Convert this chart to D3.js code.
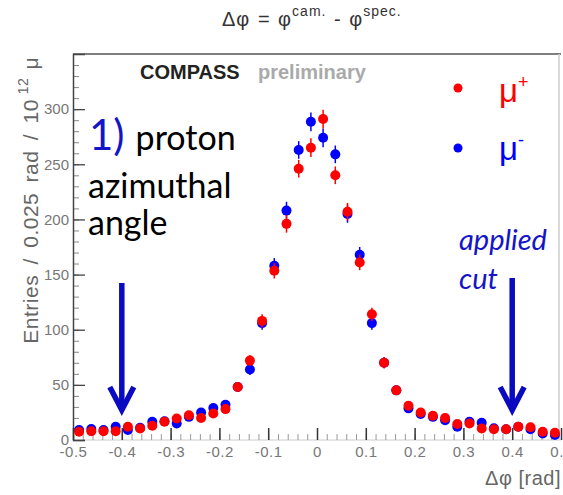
<!DOCTYPE html>
<html>
<head>
<meta charset="utf-8">
<script src="https://cdn.jsdelivr.net/npm/d3@7"></script>
<style>
  body { margin: 0; background: #fff; }
  svg { display: block; font-family: "Liberation Sans", Arial, sans-serif; }
</style>
</head>
<body>
<div id="cont"></div>
<script>
// Delta phi bins (centres, width 0.025 rad)
var binCentres = [-0.4875, -0.4625, -0.4375, -0.4125, -0.3875, -0.3625, -0.3375, -0.3125,
  -0.2875, -0.2625, -0.2375, -0.2125, -0.1875, -0.1625, -0.1375, -0.1125,
  -0.0875, -0.0625, -0.0375, -0.0125, 0.0125, 0.0375, 0.0625, 0.0875,
  0.1125, 0.1375, 0.1625, 0.1875, 0.2125, 0.2375, 0.2625, 0.2875,
  0.3125, 0.3375, 0.3625, 0.3875, 0.4125, 0.4375, 0.4625, 0.4875];

// mu+ (red)
var muPlus = [7.5, 8, 8, 8, 12, 10.5, 13, 16.5, 19.5, 22.5, 20, 24, 28, 48, 72, 108,
  153.5, 196, 246, 265, 291, 240, 207, 161, 114, 70, 45, 31, 25, 22, 20, 14.5,
  15, 10.5, 9.7, 9.7, 12, 11.5, 7.5, 6.6];

// mu- (blue)
var muMinus = [9, 10, 9, 12, 9, 11, 16.5, 17, 15, 21, 25, 29, 32, 48, 64, 106,
  158, 208, 263, 288.5, 274, 259, 205, 168, 106, 70, 45, 28.7, 23.6, 21, 18, 12,
  16.6, 15.7, 10.6, 9.7, 12, 9.7, 6, 4.5];

// half error bars (read roughly)
var errHalf = [2, 2, 2, 2, 2, 2, 2, 2, 2, 2.5, 2.5, 2.5, 3, 4, 5, 6,
  7, 8, 8, 8.5, 8.5, 8, 8, 7, 6, 5, 4, 3, 2.5, 2.5, 2.5, 2,
  2, 2, 2, 2, 2, 2, 2, 2];

var xTicks = [-0.5, -0.4, -0.3, -0.2, -0.1, 0, 0.1, 0.2, 0.3, 0.4, 0.5];
var xTickLabels = ["-0.5", "-0.4", "-0.3", "-0.2", "-0.1", "0", "0.1", "0.2", "0.3", "0.4", "0.5"];
var yTicks = [0, 50, 100, 150, 200, 250, 300];
var cutValues = [-0.4, 0.4];

var red = "#ff0000";
var blue = "#0000ff";
var annBlue = "#1414c8";

var svg = d3.select("#cont").append("svg")
    .attr("width", 563)
    .attr("height", 495);

var x = d3.scaleLinear().domain([-0.5, 0.5]).range([73, 561]);
var y = d3.scaleLinear().domain([0, 350]).range([440, 54]);

// frame
svg.append("line").attr("x1", 73).attr("x2", 561).attr("y1", 54).attr("y2", 54)
    .attr("stroke", "#555").attr("stroke-width", 1.5);
svg.append("line").attr("x1", 559).attr("x2", 559).attr("y1", 54).attr("y2", 440)
    .attr("stroke", "#ccc").attr("stroke-width", 1.5);
svg.append("line").attr("x1", 73).attr("x2", 561).attr("y1", 440).attr("y2", 440)
    .attr("stroke", "#ccc").attr("stroke-width", 1);

// minor ticks
var yMinor = d3.range(0, 351, 10);
svg.append("g").attr("transform", "translate(73,0)")
    .call(d3.axisLeft(y).tickValues(yMinor).tickSize(-6).tickFormat(""))
    .call(function(g) { g.select(".domain").remove(); g.selectAll("line").attr("stroke", "#888"); });
var xMinor = d3.range(-25, 26).map(function(i) { return i * 0.02; });
svg.append("g").attr("transform", "translate(0,440)")
    .call(d3.axisBottom(x).tickValues(xMinor).tickSize(-6).tickFormat(""))
    .call(function(g) { g.select(".domain").remove(); g.selectAll("line").attr("stroke", "#999"); });

// major axes
svg.append("g").attr("transform", "translate(73,0)")
    .call(d3.axisLeft(y).tickValues(yTicks).tickSize(-12).tickPadding(4))
    .call(function(g) {
      g.select(".domain").attr("stroke", "#444").attr("stroke-width", 1.5);
      g.selectAll("line").attr("stroke", "#444").attr("stroke-width", 1.3);
      g.selectAll("text").attr("fill", "#777").attr("font-size", 15)
        .attr("font-family", "Liberation Sans, Arial, sans-serif");
    });
svg.append("g").attr("transform", "translate(0,440)")
    .call(d3.axisBottom(x).tickValues(xTicks).tickSize(-12).tickPadding(6)
      .tickFormat(function(d, i) { return xTickLabels[i]; }))
    .call(function(g) {
      g.select(".domain").remove();
      g.selectAll("line").attr("stroke", "#333").attr("stroke-width", 1.5);
      g.selectAll("text").attr("fill", "#777").attr("font-size", 15)
        .attr("letter-spacing", 0.5)
        .attr("font-family", "Liberation Sans, Arial, sans-serif");
    });

// axis titles
var yt = svg.append("text")
    .attr("transform", "translate(38,57) rotate(-90)")
    .attr("text-anchor", "end")
    .attr("fill", "#666")
    .attr("font-size", 21)
    .attr("letter-spacing", 0.5)
    .attr("word-spacing", 4);
yt.append("tspan").text("Entries / 0.025 rad / 10");
yt.append("tspan").attr("font-size", 14).attr("dy", -10).attr("dx", 5).text("12");
yt.append("tspan").attr("dy", 10).attr("dx", 8).text("\u03bc");

svg.append("text").attr("x", 561).attr("y", 485).attr("text-anchor", "end")
    .attr("fill", "#666").attr("font-size", 20).attr("letter-spacing", 0.5)
    .text("\u0394\u03c6 [rad]");

// title
var tt = svg.append("text").attr("x", 222).attr("y", 26).attr("fill", "#333").attr("font-size", 20)
    .attr("letter-spacing", 1).attr("word-spacing", 1);
tt.append("tspan").text("\u0394\u03c6 = \u03c6");
tt.append("tspan").attr("font-size", 14).attr("dy", -10).text("cam.");
tt.append("tspan").attr("dy", 10).text(" - \u03c6");
tt.append("tspan").attr("font-size", 14).attr("dy", -10).text("spec.");

// COMPASS preliminary
svg.append("text").attr("x", 140).attr("y", 79).attr("font-size", 20).attr("font-weight", "bold")
    .attr("fill", "#222").text("COMPASS");
svg.append("text").attr("x", 258).attr("y", 79).attr("font-size", 20).attr("font-weight", "bold")
    .attr("fill", "#aaa").text("preliminary");

// error bars + markers
function drawSeries(vals, color) {
  var g = svg.append("g");
  g.selectAll("line").data(vals).enter().append("line")
    .attr("x1", function(d, i) { return x(binCentres[i]); })
    .attr("x2", function(d, i) { return x(binCentres[i]); })
    .attr("y1", function(d, i) { return y(d + errHalf[i]); })
    .attr("y2", function(d, i) { return y(d - errHalf[i]); })
    .attr("stroke", color).attr("stroke-width", 1.5);
  g.selectAll("circle").data(vals).enter().append("circle")
    .attr("cx", function(d, i) { return x(binCentres[i]); })
    .attr("cy", function(d) { return y(d); })
    .attr("r", 5)
    .attr("fill", color);
}
drawSeries(muMinus, blue);
drawSeries(muPlus, red);

// legend
svg.append("circle").attr("cx", 458).attr("cy", 88).attr("r", 4.5).attr("fill", red);
var l1 = svg.append("text").attr("x", 499).attr("y", 102).attr("fill", red).attr("font-size", 33);
l1.append("tspan").text("\u03bc");
l1.append("tspan").attr("font-size", 18).attr("dy", -14).text("+");
svg.append("circle").attr("cx", 458).attr("cy", 148).attr("r", 4.5).attr("fill", blue);
var l2 = svg.append("text").attr("x", 499).attr("y", 160).attr("fill", blue).attr("font-size", 33);
l2.append("tspan").text("\u03bc");
l2.append("tspan").attr("font-size", 18).attr("dy", -14).text("-");

// annotations
var ann = svg.append("g").attr("font-family", "Lato, 'Open Sans', sans-serif");
var a1 = ann.append("text").attr("x", 89).attr("y", 150).attr("font-size", 34);
a1.append("tspan").attr("fill", annBlue).attr("font-size", 42).text("1)");
a1.append("tspan").attr("fill", "#000").attr("dx", 11).text("proton");
ann.append("text").attr("x", 88).attr("y", 198).attr("font-size", 34).attr("fill", "#000").text("azimuthal");
ann.append("text").attr("x", 88).attr("y", 235).attr("font-size", 34).attr("fill", "#000").text("angle");
ann.append("text").attr("x", 459).attr("y", 250).attr("font-size", 29).attr("font-style", "italic")
    .attr("fill", annBlue).text("applied");
ann.append("text").attr("x", 459).attr("y", 289).attr("font-size", 29).attr("font-style", "italic")
    .attr("fill", annBlue).text("cut");

// cut arrows
var arrowTop = [283, 278];
cutValues.forEach(function(c, i) {
  var ax = x(c);
  var tip = 410;
  svg.append("line").attr("x1", ax).attr("x2", ax).attr("y1", arrowTop[i]).attr("y2", tip - 3)
    .attr("stroke", "#0a0ac0").attr("stroke-width", 5.5);
  svg.append("path")
    .attr("d", "M" + (ax - 12) + "," + (tip - 23) + "L" + ax + "," + tip + "L" + (ax + 12) + "," + (tip - 23))
    .attr("fill", "none").attr("stroke", "#0a0ac0").attr("stroke-width", 5.5)
    .attr("stroke-linejoin", "miter");
});
</script>
</body>
</html>
